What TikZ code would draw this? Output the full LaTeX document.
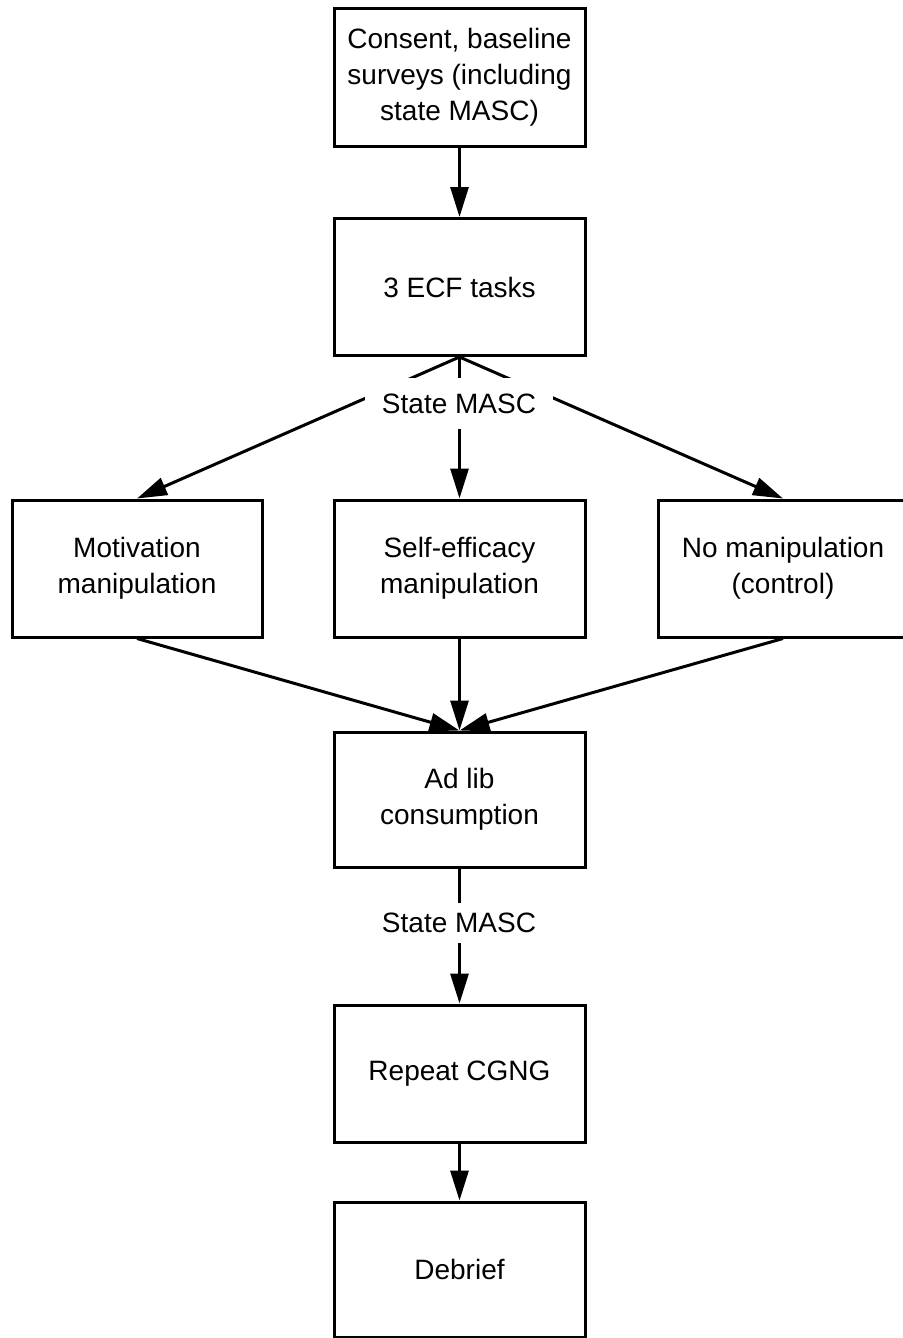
\documentclass[tikz,border=0pt]{standalone}
\usepackage{fontspec}
\setmainfont{Liberation Sans}
\usetikzlibrary{arrows.meta}
\begin{document}
\begin{tikzpicture}[x=1pt,y=-1pt,
  stagebox/.style={draw=black, line width=3pt, fill=white, minimum width=251pt, minimum height=137pt, align=center, inner sep=4pt, font=\fontsize{28}{36}\selectfont},
  flow/.style={line width=3pt, -{Triangle[length=30pt,width=18pt]}},
  plain/.style={line width=3pt},
  masclabel/.style={fill=white, inner sep=0pt, minimum width=188pt, font=\fontsize{28}{36}\selectfont}
]
\useasboundingbox (0,0) rectangle (902,1338);
\node[stagebox] (consent) at (459.5,77.5) {Consent, baseline\\surveys (including\\state MASC)};
\node[stagebox] (ecf) at (459.5,287) {3 ECF tasks};
\node[stagebox, minimum width=250pt] (mot) at (137,568.5) {Motivation\\manipulation};
\node[stagebox] (self) at (459.5,568.5) {Self-efficacy\\manipulation};
\node[stagebox, minimum width=250pt] (noman) at (783,568.5) {No manipulation\\(control)};
\node[stagebox, minimum height=135pt] (adlib) at (459.5,799.5) {Ad lib\\consumption};
\node[stagebox] (cgng) at (459.5,1073.5) {Repeat CGNG};
\node[stagebox, minimum height=135pt] (debrief) at (459.5,1269.5) {Debrief};

\draw[flow] (consent.south) -- (ecf.north);
\draw[flow] (ecf.south) -- (mot.north);
\draw[flow] (ecf.south) -- (self.north);
\draw[flow] (ecf.south) -- (noman.north);
\draw[flow] (mot.south) -- (adlib.north);
\draw[flow] (self.south) -- (adlib.north);
\draw[flow] (noman.south) -- (adlib.north);
\draw[flow] (adlib.south) -- (cgng.north);
\draw[flow] (cgng.south) -- (debrief.north);

\node[masclabel, minimum height=51pt] (mascA) at (459,403.5) {State MASC};
\node[masclabel, minimum height=40pt] (mascB) at (459,923) {State MASC};
\end{tikzpicture}
\end{document}
